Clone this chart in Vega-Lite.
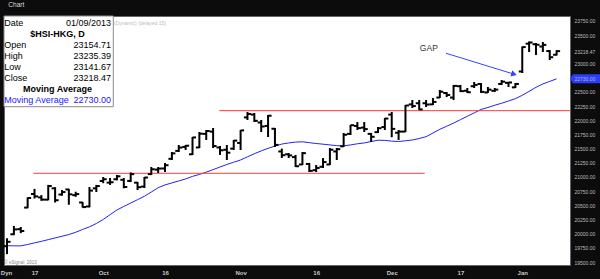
{
  "$schema": "https://vega.github.io/schema/vega-lite/v6.json",
  "width": 566,
  "height": 249,
  "autosize": {"type": "none"},
  "padding": {"left": 4, "top": 16, "right": 30, "bottom": 14},
  "background": "#0c0c0c",
  "title": {"text": "Chart", "anchor": "start", "dx": 8, "offset": 1, "baseline": "bottom", "fontSize": 6.5, "color": "#dddddd", "font": "Liberation Sans", "fontWeight": "normal"},
  "config": {"view": {"fill": "#ffffff", "stroke": "#666666"}, "font": "Liberation Sans", "axis": {"labelFont": "Liberation Sans"}},
  "resolve": {"axis": {"x": "independent", "y": "independent"}},
  "datasets": {
    "bars": [
      {"d":"2012-09-11","i":0,"o":19780,"h":19920,"l":19640,"c":19857,"ma":19789},
      {"d":"2012-09-12","i":1,"o":19990,"h":20135,"l":19975,"c":20075,"ma":19786},
      {"d":"2012-09-13","i":2,"o":20080,"h":20118,"l":20010,"c":20047,"ma":19785},
      {"d":"2012-09-14","i":3,"o":20460,"h":20640,"l":20450,"c":20629,"ma":19810},
      {"d":"2012-09-17","i":4,"o":20700,"h":20790,"l":20620,"c":20658,"ma":19838},
      {"d":"2012-09-18","i":5,"o":20640,"h":20680,"l":20580,"c":20601,"ma":19865},
      {"d":"2012-09-19","i":6,"o":20600,"h":20860,"l":20590,"c":20841,"ma":19895},
      {"d":"2012-09-20","i":7,"o":20800,"h":20820,"l":20550,"c":20590,"ma":19925},
      {"d":"2012-09-21","i":8,"o":20690,"h":20770,"l":20670,"c":20734,"ma":19955},
      {"d":"2012-09-24","i":9,"o":20780,"h":20790,"l":20510,"c":20694,"ma":19985},
      {"d":"2012-09-25","i":10,"o":20680,"h":20740,"l":20650,"c":20698,"ma":20025},
      {"d":"2012-09-26","i":11,"o":20550,"h":20560,"l":20460,"c":20469,"ma":20075},
      {"d":"2012-09-27","i":12,"o":20480,"h":20823,"l":20465,"c":20760,"ma":20120},
      {"d":"2012-09-28","i":13,"o":20800,"h":20860,"l":20735,"c":20840,"ma":20180},
      {"d":"2012-10-03","i":14,"o":20930,"h":21000,"l":20890,"c":20960,"ma":20250},
      {"d":"2012-10-04","i":15,"o":20900,"h":20982,"l":20860,"c":20907,"ma":20335},
      {"d":"2012-10-05","i":16,"o":20960,"h":21035,"l":20940,"c":21012,"ma":20418},
      {"d":"2012-10-08","i":17,"o":20950,"h":20982,"l":20800,"c":20824,"ma":20480},
      {"d":"2012-10-09","i":18,"o":20930,"h":21080,"l":20910,"c":21050,"ma":20540},
      {"d":"2012-10-10","i":19,"o":20900,"h":20912,"l":20770,"c":20820,"ma":20600},
      {"d":"2012-10-11","i":20,"o":20830,"h":21000,"l":20806,"c":20990,"ma":20660},
      {"d":"2012-10-12","i":21,"o":21050,"h":21176,"l":21035,"c":21136,"ma":20735},
      {"d":"2012-10-15","i":22,"o":21130,"h":21176,"l":21070,"c":21148,"ma":20810},
      {"d":"2012-10-16","i":23,"o":21150,"h":21247,"l":21088,"c":21207,"ma":20860},
      {"d":"2012-10-17","i":24,"o":21320,"h":21440,"l":21299,"c":21416,"ma":20895},
      {"d":"2012-10-18","i":25,"o":21460,"h":21564,"l":21440,"c":21518,"ma":20930},
      {"d":"2012-10-19","i":26,"o":21530,"h":21564,"l":21476,"c":21551,"ma":20965},
      {"d":"2012-10-22","i":27,"o":21400,"h":21705,"l":21388,"c":21697,"ma":21010},
      {"d":"2012-10-24","i":28,"o":21520,"h":21793,"l":21511,"c":21763,"ma":21045},
      {"d":"2012-10-25","i":29,"o":21760,"h":21828,"l":21652,"c":21810,"ma":21085},
      {"d":"2012-10-26","i":30,"o":21800,"h":21864,"l":21511,"c":21545,"ma":21130},
      {"d":"2012-10-29","i":31,"o":21520,"h":21546,"l":21388,"c":21470,"ma":21175},
      {"d":"2012-10-30","i":32,"o":21480,"h":21564,"l":21299,"c":21428,"ma":21220},
      {"d":"2012-10-31","i":33,"o":21500,"h":21652,"l":21476,"c":21641,"ma":21260},
      {"d":"2012-11-01","i":34,"o":21600,"h":21828,"l":21476,"c":21821,"ma":21300},
      {"d":"2012-11-02","i":35,"o":22050,"h":22146,"l":22005,"c":22111,"ma":21355},
      {"d":"2012-11-05","i":36,"o":22100,"h":22128,"l":21969,"c":21990,"ma":21410},
      {"d":"2012-11-06","i":37,"o":21960,"h":22005,"l":21793,"c":21890,"ma":21460},
      {"d":"2012-11-07","i":38,"o":21900,"h":22093,"l":21705,"c":22080,"ma":21505},
      {"d":"2012-11-08","i":39,"o":21850,"h":21864,"l":21529,"c":21566,"ma":21545},
      {"d":"2012-11-09","i":40,"o":21450,"h":21500,"l":21335,"c":21384,"ma":21580},
      {"d":"2012-11-12","i":41,"o":21400,"h":21423,"l":21335,"c":21380,"ma":21600},
      {"d":"2012-11-13","i":42,"o":21350,"h":21388,"l":21176,"c":21189,"ma":21615},
      {"d":"2012-11-14","i":43,"o":21220,"h":21440,"l":21211,"c":21420,"ma":21620},
      {"d":"2012-11-15","i":44,"o":21230,"h":21247,"l":21088,"c":21108,"ma":21605},
      {"d":"2012-11-16","i":45,"o":21120,"h":21211,"l":21088,"c":21159,"ma":21590},
      {"d":"2012-11-19","i":46,"o":21180,"h":21335,"l":21158,"c":21263,"ma":21578},
      {"d":"2012-11-20","i":47,"o":21220,"h":21511,"l":21211,"c":21480,"ma":21565},
      {"d":"2012-11-21","i":48,"o":21450,"h":21511,"l":21299,"c":21490,"ma":21552},
      {"d":"2012-11-22","i":49,"o":21540,"h":21775,"l":21529,"c":21744,"ma":21548},
      {"d":"2012-11-23","i":50,"o":21760,"h":21916,"l":21740,"c":21913,"ma":21565},
      {"d":"2012-11-26","i":51,"o":21900,"h":21969,"l":21828,"c":21861,"ma":21585},
      {"d":"2012-11-27","i":52,"o":21870,"h":21969,"l":21793,"c":21844,"ma":21600},
      {"d":"2012-11-28","i":53,"o":21760,"h":21775,"l":21617,"c":21708,"ma":21625},
      {"d":"2012-11-29","i":54,"o":21790,"h":21881,"l":21775,"c":21860,"ma":21648},
      {"d":"2012-11-30","i":55,"o":21880,"h":22040,"l":21828,"c":22030,"ma":21645},
      {"d":"2012-12-03","i":56,"o":22100,"h":22146,"l":21700,"c":21848,"ma":21632},
      {"d":"2012-12-04","i":57,"o":21780,"h":21828,"l":21652,"c":21800,"ma":21625},
      {"d":"2012-12-05","i":58,"o":21800,"h":22269,"l":21793,"c":22260,"ma":21638},
      {"d":"2012-12-06","i":59,"o":22280,"h":22357,"l":22216,"c":22250,"ma":21652},
      {"d":"2012-12-07","i":60,"o":22300,"h":22357,"l":22181,"c":22191,"ma":21678},
      {"d":"2012-12-10","i":61,"o":22300,"h":22357,"l":22234,"c":22277,"ma":21710},
      {"d":"2012-12-11","i":62,"o":22280,"h":22393,"l":22269,"c":22323,"ma":21775},
      {"d":"2012-12-12","i":63,"o":22400,"h":22533,"l":22393,"c":22503,"ma":21840},
      {"d":"2012-12-13","i":64,"o":22480,"h":22498,"l":22410,"c":22445,"ma":21895},
      {"d":"2012-12-14","i":65,"o":22400,"h":22622,"l":22357,"c":22606,"ma":21950},
      {"d":"2012-12-17","i":66,"o":22600,"h":22622,"l":22498,"c":22513,"ma":22010},
      {"d":"2012-12-18","i":67,"o":22520,"h":22569,"l":22481,"c":22494,"ma":22070},
      {"d":"2012-12-19","i":68,"o":22600,"h":22675,"l":22569,"c":22623,"ma":22130},
      {"d":"2012-12-20","i":69,"o":22640,"h":22657,"l":22481,"c":22500,"ma":22190},
      {"d":"2012-12-21","i":70,"o":22490,"h":22586,"l":22481,"c":22540,"ma":22225},
      {"d":"2012-12-24","i":71,"o":22520,"h":22569,"l":22498,"c":22540,"ma":22265},
      {"d":"2012-12-27","i":72,"o":22640,"h":22710,"l":22622,"c":22680,"ma":22300},
      {"d":"2012-12-28","i":73,"o":22660,"h":22675,"l":22586,"c":22666,"ma":22340},
      {"d":"2012-12-31","i":74,"o":22580,"h":22657,"l":22569,"c":22640,"ma":22380},
      {"d":"2013-01-02","i":75,"o":22860,"h":23300,"l":22833,"c":23290,"ma":22440},
      {"d":"2013-01-03","i":76,"o":23350,"h":23390,"l":23203,"c":23370,"ma":22510},
      {"d":"2013-01-04","i":77,"o":23340,"h":23362,"l":23151,"c":23331,"ma":22580},
      {"d":"2013-01-07","i":78,"o":23300,"h":23380,"l":23203,"c":23329,"ma":22640},
      {"d":"2013-01-08","i":79,"o":23220,"h":23239,"l":23062,"c":23111,"ma":22685},
      {"d":"2013-01-09","i":80,"o":23154.71,"h":23235.39,"l":23141.67,"c":23218.47,"ma":22730}
    ],
    "levels": [
      {"from": 3.83, "to": 60.8, "price": 21065},
      {"from": 30.9, "to": 81.95, "price": 22169}
    ]
  },
  "layer": [
    {
      "data": {"name": "bars"},
      "mark": {"type": "line", "color": "#2323ee", "strokeWidth": 1},
      "encoding": {
        "x": {"field": "i", "type": "quantitative", "scale": {"domain": [-0.44, 81.95], "nice": false, "zero": false},
          "axis": {"orient": "bottom", "title": null, "values": [-0.15, 4, 14, 23, 34, 45, 56, 66, 75],
            "labelExpr": "datum.value == 4 ? '17' : datum.value == 14 ? 'Oct' : datum.value == 23 ? '16' : datum.value == 34 ? 'Nov' : datum.value == 45 ? '16' : datum.value == 56 ? 'Dec' : datum.value == 66 ? '17' : datum.value == 75 ? 'Jan' : 'Dyn'",
            "domain": false, "ticks": false, "grid": false, "labelColor": "#c8c8c8", "labelFontSize": 6, "labelFontWeight": "bold",
            "labelPadding": 4, "labelFlush": false, "labelOverlap": false}},
        "y": {"field": "ma", "type": "quantitative", "scale": {"domain": [19448, 23838], "nice": false, "zero": false},
          "axis": {"orient": "right", "title": null, "values": [19500, 19750, 20000, 20250, 20500, 20750, 21000, 21250, 21500, 21750, 22000, 22250, 22500, 22730, 23000, 23218.47, 23500, 23750],
            "labelExpr": "format(datum.value, '.2f')", "domain": false, "ticks": false, "grid": false,
            "labelColor": "#bdbdbd",
            "labelFontSize": 5, "labelPadding": 4, "labelOverlap": false, "labelFlush": false, "zindex": 1}}
      }
    },
    {
      "data": {"name": "levels"},
      "mark": {"type": "rule", "color": "#ff3b3b", "strokeWidth": 1},
      "encoding": {
        "x": {"field": "from", "type": "quantitative", "scale": {"domain": [-0.44, 81.95], "nice": false, "zero": false}, "axis": null},
        "x2": {"field": "to"},
        "y": {"field": "price", "type": "quantitative", "scale": {"domain": [19448, 23838], "nice": false, "zero": false}, "axis": null}
      }
    },
    {
      "data": {"name": "bars"},
      "mark": {"type": "rule", "color": "#000000", "strokeWidth": 2},
      "encoding": {
        "x": {"field": "i", "type": "quantitative", "scale": {"domain": [-0.44, 81.95], "nice": false, "zero": false}, "axis": null},
        "y": {"field": "l", "type": "quantitative", "scale": {"domain": [19448, 23838], "nice": false, "zero": false}, "axis": null},
        "y2": {"field": "h"}
      }
    },
    {
      "data": {"name": "bars"},
      "mark": {"type": "rule", "color": "#000000", "strokeWidth": 2, "xOffset": -3.5, "x2Offset": 0},
      "encoding": {
        "x": {"field": "i", "type": "quantitative", "scale": {"domain": [-0.44, 81.95], "nice": false, "zero": false}, "axis": null},
        "x2": {"field": "i"},
        "y": {"field": "o", "type": "quantitative", "scale": {"domain": [19448, 23838], "nice": false, "zero": false}, "axis": null}
      }
    },
    {
      "data": {"name": "bars"},
      "mark": {"type": "rule", "color": "#000000", "strokeWidth": 2, "xOffset": 0, "x2Offset": 3.5},
      "encoding": {
        "x": {"field": "i", "type": "quantitative", "scale": {"domain": [-0.44, 81.95], "nice": false, "zero": false}, "axis": null},
        "x2": {"field": "i"},
        "y": {"field": "c", "type": "quantitative", "scale": {"domain": [19448, 23838], "nice": false, "zero": false}, "axis": null}
      }
    },
    {
      "data": {"values": [{}]},
      "mark": {"type": "rect", "fill": "#ffffff", "stroke": "#8a8a8a", "strokeWidth": 1},
      "encoding": {
        "x": {"datum": -0.44, "type": "quantitative", "axis": null},
        "x2": {"datum": 15.47},
        "y": {"datum": 23838, "type": "quantitative", "axis": null},
        "y2": {"datum": 22239}
      }
    },
    {
      "data": {"values": [{}]},
      "mark": {"type": "text", "align": "left", "baseline": "alphabetic", "fontSize": 9, "color": "#000000", "font": "Liberation Sans"},
      "encoding": {
        "x": {"datum": -0.39, "type": "quantitative", "axis": null},
        "y": {"datum": 23657, "type": "quantitative", "axis": null},
        "text": {"value": "Date"}
      }
    },
    {
      "data": {"values": [{}]},
      "mark": {"type": "text", "align": "right", "baseline": "alphabetic", "fontSize": 9, "color": "#000000", "font": "Liberation Sans"},
      "encoding": {
        "x": {"datum": 15.14, "type": "quantitative", "axis": null},
        "y": {"datum": 23657, "type": "quantitative", "axis": null},
        "text": {"value": "01/09/2013"}
      }
    },
    {
      "data": {"values": [{}]},
      "mark": {"type": "text", "align": "center", "baseline": "alphabetic", "fontSize": 9, "fontWeight": "bold", "color": "#000000", "font": "Liberation Sans"},
      "encoding": {
        "x": {"datum": 7.35, "type": "quantitative", "axis": null},
        "y": {"datum": 23463, "type": "quantitative", "axis": null},
        "text": {"value": "$HSI-HKG, D"}
      }
    },
    {
      "data": {"values": [{}]},
      "mark": {"type": "text", "align": "left", "baseline": "alphabetic", "fontSize": 9, "lineHeight": 11, "color": "#000000", "font": "Liberation Sans"},
      "encoding": {
        "x": {"datum": -0.39, "type": "quantitative", "axis": null},
        "y": {"datum": 23269, "type": "quantitative", "axis": null},
        "text": {"value": ["Open", "High", "Low", "Close"]}
      }
    },
    {
      "data": {"values": [{}]},
      "mark": {"type": "text", "align": "right", "baseline": "alphabetic", "fontSize": 9, "lineHeight": 11, "color": "#000000", "font": "Liberation Sans"},
      "encoding": {
        "x": {"datum": 15.14, "type": "quantitative", "axis": null},
        "y": {"datum": 23269, "type": "quantitative", "axis": null},
        "text": {"value": ["23154.71", "23235.39", "23141.67", "23218.47"]}
      }
    },
    {
      "data": {"values": [{}]},
      "mark": {"type": "text", "align": "center", "baseline": "alphabetic", "fontSize": 9, "fontWeight": "bold", "color": "#000000", "font": "Liberation Sans"},
      "encoding": {
        "x": {"datum": 7.35, "type": "quantitative", "axis": null},
        "y": {"datum": 22493, "type": "quantitative", "axis": null},
        "text": {"value": "Moving Average"}
      }
    },
    {
      "data": {"values": [{}]},
      "mark": {"type": "text", "align": "left", "baseline": "alphabetic", "fontSize": 9, "color": "#2020ff", "font": "Liberation Sans"},
      "encoding": {
        "x": {"datum": -0.39, "type": "quantitative", "axis": null},
        "y": {"datum": 22299, "type": "quantitative", "axis": null},
        "text": {"value": "Moving Average"}
      }
    },
    {
      "data": {"name": "bars"},
      "transform": [{"filter": "datum.i == 80"}],
      "mark": {"type": "text", "align": "right", "baseline": "alphabetic", "fontSize": 9, "color": "#2020ff", "font": "Liberation Sans"},
      "encoding": {
        "x": {"datum": 15.14, "type": "quantitative", "axis": null},
        "y": {"datum": 22299, "type": "quantitative", "axis": null},
        "text": {"field": "ma", "type": "quantitative", "format": ".2f"}
      }
    },
    {
      "data": {"values": [{}]},
      "mark": {"type": "text", "align": "left", "baseline": "alphabetic", "fontSize": 5, "color": "#bbbbbb", "font": "Liberation Sans"},
      "encoding": {
        "x": {"datum": 15.57, "type": "quantitative", "axis": null},
        "y": {"datum": 23680, "type": "quantitative", "axis": null},
        "text": {"value": "(Dynamic) (delayed 15)"}
      }
    },
    {
      "data": {"values": [{}]},
      "mark": {"type": "text", "align": "left", "baseline": "alphabetic", "fontSize": 4.5, "color": "#888888", "font": "Liberation Sans"},
      "encoding": {
        "x": {"datum": -0.36, "type": "quantitative", "axis": null},
        "y": {"datum": 19466, "type": "quantitative", "axis": null},
        "text": {"value": "© eSignal, 2013"}
      }
    },
    {
      "data": {"values": [{}]},
      "mark": {"type": "text", "align": "center", "baseline": "middle", "fontSize": 8.5, "color": "#333333", "font": "Liberation Sans"},
      "encoding": {
        "x": {"datum": 61.4, "type": "quantitative", "axis": null},
        "y": {"datum": 23274, "type": "quantitative", "axis": null},
        "text": {"value": "GAP"}
      }
    },
    {
      "data": {"values": [{}]},
      "mark": {"type": "rule", "color": "#3344ff", "strokeWidth": 1},
      "encoding": {
        "x": {"datum": 63.9, "type": "quantitative", "axis": null},
        "x2": {"datum": 74.0},
        "y": {"datum": 23181, "type": "quantitative", "axis": null},
        "y2": {"datum": 22805}
      }
    },
    {
      "data": {"values": [{}]},
      "mark": {"type": "point", "shape": "triangle-right", "angle": 17, "size": 40, "filled": true, "color": "#3344ff", "opacity": 1},
      "encoding": {
        "x": {"datum": 73.8, "type": "quantitative", "axis": null},
        "y": {"datum": 22812, "type": "quantitative", "axis": null}
      }
    },
    {
      "data": {"name": "bars"},
      "transform": [{"filter": "datum.i == 80"}],
      "mark": {"type": "point", "shape": "M0,0 L0.2,-0.3 L2,-0.3 L2,0.3 L0.2,0.3 Z", "size": 900, "filled": true, "color": "#2a3cff", "opacity": 1, "strokeWidth": 0},
      "encoding": {
        "x": {"datum": 81.95, "type": "quantitative", "axis": null},
        "y": {"field": "ma", "type": "quantitative", "axis": null}
      }
    }
  ]
}
